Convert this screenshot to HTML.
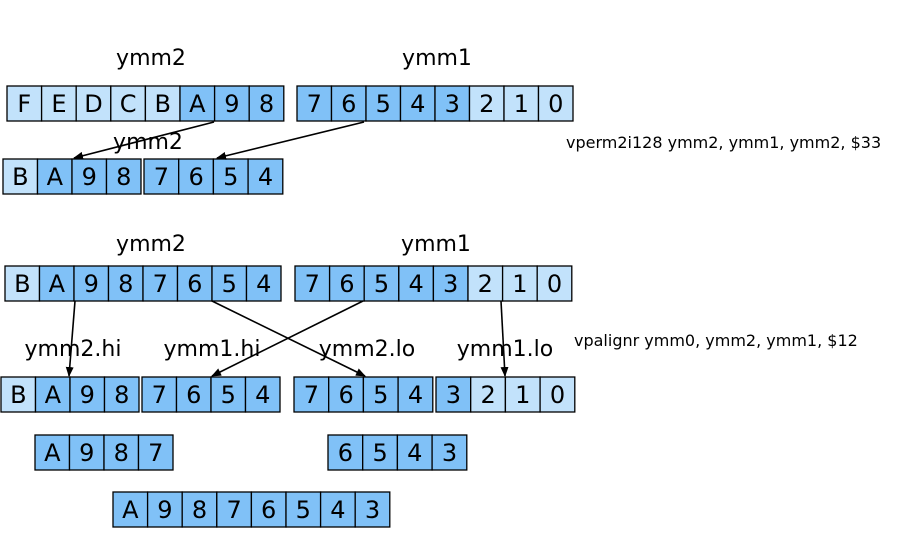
<!DOCTYPE html>
<html><head><style>
body{margin:0;background:#fff;}
svg{display:block;font-family:"DejaVu Sans","Liberation Sans",sans-serif;}
.L{fill:#c2e2fb;stroke:#000;stroke-width:1.3}
.D{fill:#80c1f7;stroke:#000;stroke-width:1.3}
.c{font-size:24px;text-anchor:middle;fill:#000}
</style></head><body>
<svg width="898" height="540" viewBox="0 0 898 540" xmlns="http://www.w3.org/2000/svg">
<defs><marker id="a" markerWidth="10" markerHeight="8" refX="9" refY="4" orient="auto" markerUnits="userSpaceOnUse"><path d="M0,0 L10,4 L0,8 z" fill="#000"/></marker></defs>

<rect class="L" x="7" y="86" width="34.6" height="35"/><text class="c" x="24.3" y="112">F</text>
<rect class="L" x="41.6" y="86" width="34.6" height="35"/><text class="c" x="58.9" y="112">E</text>
<rect class="L" x="76.2" y="86" width="34.6" height="35"/><text class="c" x="93.5" y="112">D</text>
<rect class="L" x="110.8" y="86" width="34.6" height="35"/><text class="c" x="128.1" y="112">C</text>
<rect class="L" x="145.4" y="86" width="34.6" height="35"/><text class="c" x="162.7" y="112">B</text>
<rect class="D" x="180" y="86" width="34.6" height="35"/><text class="c" x="197.3" y="112">A</text>
<rect class="D" x="214.6" y="86" width="34.6" height="35"/><text class="c" x="231.9" y="112">9</text>
<rect class="D" x="249.2" y="86" width="34.6" height="35"/><text class="c" x="266.5" y="112">8</text>
<rect class="D" x="297" y="86" width="34.5" height="35"/><text class="c" x="314.3" y="112">7</text>
<rect class="D" x="331.5" y="86" width="34.5" height="35"/><text class="c" x="348.8" y="112">6</text>
<rect class="D" x="366" y="86" width="34.5" height="35"/><text class="c" x="383.3" y="112">5</text>
<rect class="D" x="400.5" y="86" width="34.5" height="35"/><text class="c" x="417.8" y="112">4</text>
<rect class="D" x="435" y="86" width="34.5" height="35"/><text class="c" x="452.3" y="112">3</text>
<rect class="L" x="469.5" y="86" width="34.5" height="35"/><text class="c" x="486.8" y="112">2</text>
<rect class="L" x="504" y="86" width="34.5" height="35"/><text class="c" x="521.3" y="112">1</text>
<rect class="L" x="538.5" y="86" width="34.5" height="35"/><text class="c" x="555.8" y="112">0</text>

<rect class="L" x="3" y="159" width="34.5" height="35"/><text class="c" x="20.3" y="185">B</text>
<rect class="D" x="37.5" y="159" width="34.5" height="35"/><text class="c" x="54.8" y="185">A</text>
<rect class="D" x="72" y="159" width="34.5" height="35"/><text class="c" x="89.3" y="185">9</text>
<rect class="D" x="106.5" y="159" width="34.5" height="35"/><text class="c" x="123.8" y="185">8</text>
<rect class="D" x="144" y="159" width="34.7" height="35"/><text class="c" x="161.4" y="185">7</text>
<rect class="D" x="178.7" y="159" width="34.7" height="35"/><text class="c" x="196.1" y="185">6</text>
<rect class="D" x="213.4" y="159" width="34.7" height="35"/><text class="c" x="230.8" y="185">5</text>
<rect class="D" x="248.1" y="159" width="34.7" height="35"/><text class="c" x="265.5" y="185">4</text>

<rect class="L" x="5" y="266" width="34.5" height="35"/><text class="c" x="22.3" y="292">B</text>
<rect class="D" x="39.5" y="266" width="34.5" height="35"/><text class="c" x="56.8" y="292">A</text>
<rect class="D" x="74" y="266" width="34.5" height="35"/><text class="c" x="91.3" y="292">9</text>
<rect class="D" x="108.5" y="266" width="34.5" height="35"/><text class="c" x="125.8" y="292">8</text>
<rect class="D" x="143" y="266" width="34.5" height="35"/><text class="c" x="160.3" y="292">7</text>
<rect class="D" x="177.5" y="266" width="34.5" height="35"/><text class="c" x="194.8" y="292">6</text>
<rect class="D" x="212" y="266" width="34.5" height="35"/><text class="c" x="229.3" y="292">5</text>
<rect class="D" x="246.5" y="266" width="34.5" height="35"/><text class="c" x="263.8" y="292">4</text>
<rect class="D" x="295" y="266" width="34.6" height="35"/><text class="c" x="312.3" y="292">7</text>
<rect class="D" x="329.6" y="266" width="34.6" height="35"/><text class="c" x="346.9" y="292">6</text>
<rect class="D" x="364.2" y="266" width="34.6" height="35"/><text class="c" x="381.5" y="292">5</text>
<rect class="D" x="398.8" y="266" width="34.6" height="35"/><text class="c" x="416.1" y="292">4</text>
<rect class="D" x="433.4" y="266" width="34.6" height="35"/><text class="c" x="450.7" y="292">3</text>
<rect class="L" x="468" y="266" width="34.6" height="35"/><text class="c" x="485.3" y="292">2</text>
<rect class="L" x="502.6" y="266" width="34.6" height="35"/><text class="c" x="519.9" y="292">1</text>
<rect class="L" x="537.2" y="266" width="34.6" height="35"/><text class="c" x="554.5" y="292">0</text>

<rect class="L" x="1" y="377" width="34.5" height="35"/><text class="c" x="18.3" y="403">B</text>
<rect class="D" x="35.5" y="377" width="34.5" height="35"/><text class="c" x="52.8" y="403">A</text>
<rect class="D" x="70" y="377" width="34.5" height="35"/><text class="c" x="87.3" y="403">9</text>
<rect class="D" x="104.5" y="377" width="34.5" height="35"/><text class="c" x="121.8" y="403">8</text>
<rect class="D" x="142" y="377" width="34.5" height="35"/><text class="c" x="159.3" y="403">7</text>
<rect class="D" x="176.5" y="377" width="34.5" height="35"/><text class="c" x="193.8" y="403">6</text>
<rect class="D" x="211" y="377" width="34.5" height="35"/><text class="c" x="228.3" y="403">5</text>
<rect class="D" x="245.5" y="377" width="34.5" height="35"/><text class="c" x="262.8" y="403">4</text>
<rect class="D" x="294" y="377" width="34.7" height="35"/><text class="c" x="311.4" y="403">7</text>
<rect class="D" x="328.7" y="377" width="34.7" height="35"/><text class="c" x="346.1" y="403">6</text>
<rect class="D" x="363.4" y="377" width="34.7" height="35"/><text class="c" x="380.8" y="403">5</text>
<rect class="D" x="398.1" y="377" width="34.7" height="35"/><text class="c" x="415.5" y="403">4</text>
<rect class="D" x="436" y="377" width="34.7" height="35"/><text class="c" x="453.4" y="403">3</text>
<rect class="L" x="470.7" y="377" width="34.7" height="35"/><text class="c" x="488.1" y="403">2</text>
<rect class="L" x="505.4" y="377" width="34.7" height="35"/><text class="c" x="522.8" y="403">1</text>
<rect class="L" x="540.1" y="377" width="34.7" height="35"/><text class="c" x="557.5" y="403">0</text>

<rect class="D" x="35" y="435" width="34.5" height="35"/><text class="c" x="52.3" y="461">A</text>
<rect class="D" x="69.5" y="435" width="34.5" height="35"/><text class="c" x="86.8" y="461">9</text>
<rect class="D" x="104" y="435" width="34.5" height="35"/><text class="c" x="121.3" y="461">8</text>
<rect class="D" x="138.5" y="435" width="34.5" height="35"/><text class="c" x="155.8" y="461">7</text>
<rect class="D" x="328" y="435" width="34.7" height="35"/><text class="c" x="345.4" y="461">6</text>
<rect class="D" x="362.7" y="435" width="34.7" height="35"/><text class="c" x="380.1" y="461">5</text>
<rect class="D" x="397.4" y="435" width="34.7" height="35"/><text class="c" x="414.8" y="461">4</text>
<rect class="D" x="432.1" y="435" width="34.7" height="35"/><text class="c" x="449.5" y="461">3</text>

<rect class="D" x="113" y="492" width="34.6" height="35"/><text class="c" x="130.3" y="518">A</text>
<rect class="D" x="147.6" y="492" width="34.6" height="35"/><text class="c" x="164.9" y="518">9</text>
<rect class="D" x="182.2" y="492" width="34.6" height="35"/><text class="c" x="199.5" y="518">8</text>
<rect class="D" x="216.8" y="492" width="34.6" height="35"/><text class="c" x="234.1" y="518">7</text>
<rect class="D" x="251.4" y="492" width="34.6" height="35"/><text class="c" x="268.7" y="518">6</text>
<rect class="D" x="286" y="492" width="34.6" height="35"/><text class="c" x="303.3" y="518">5</text>
<rect class="D" x="320.6" y="492" width="34.6" height="35"/><text class="c" x="337.9" y="518">4</text>
<rect class="D" x="355.2" y="492" width="34.6" height="35"/><text class="c" x="372.5" y="518">3</text>

<g font-size="22" text-anchor="middle" fill="#000">
<text x="151" y="65">ymm2</text><text x="437" y="65">ymm1</text>
<text x="148" y="149">ymm2</text>
<text x="151" y="251">ymm2</text><text x="436" y="251">ymm1</text>
<text x="73" y="356">ymm2.hi</text><text x="212" y="356">ymm1.hi</text>
<text x="367" y="356">ymm2.lo</text><text x="505" y="356">ymm1.lo</text>
</g>
<g font-size="16" fill="#000">
<text x="566" y="148">vperm2i128 ymm2, ymm1, ymm2, $33</text>
<text x="574" y="346">vpalignr ymm0, ymm2, ymm1, $12</text>
</g>
<g stroke="#000" stroke-width="1.6" marker-end="url(#a)">
<line x1="214" y1="122" x2="74" y2="158"/>
<line x1="364" y1="122" x2="217" y2="158"/>
<line x1="75" y1="301" x2="69" y2="376"/>
<line x1="212" y1="301" x2="365" y2="376"/>
<line x1="363" y1="301" x2="212" y2="376"/>
<line x1="501" y1="301" x2="505" y2="376"/>
</g>
</svg>
</body></html>
